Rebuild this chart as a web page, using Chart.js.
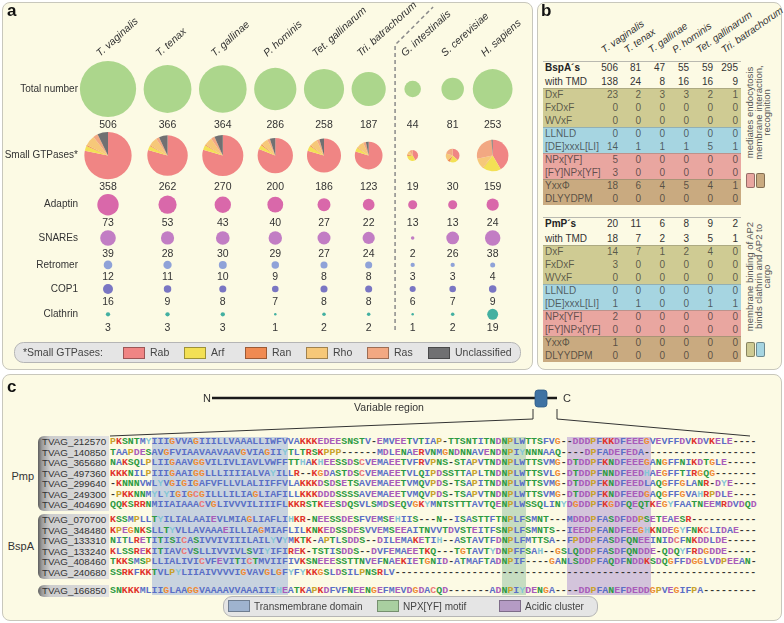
<!DOCTYPE html>
<html>
<head>
<meta charset="utf-8">
<script src="https://cdn.jsdelivr.net/npm/chart.js@4.4.1/dist/chart.umd.min.js"></script>
<style>
  body { margin:0; width:784px; height:623px; position:relative; overflow:hidden; background:#fff;
         font-family:"Liberation Sans", Arial, sans-serif; color:#333; }
  .panel { position:absolute; box-sizing:border-box; background:#fcfae4; border:1px solid #c8c7bc; border-radius:8px; }
  .abs { position:absolute; white-space:nowrap; }
  .tag { position:absolute; font-weight:bold; font-size:17px; line-height:20px; color:#111; }
  .seq { font-family:"Liberation Mono", monospace; font-weight:bold; font-size:9.9px; line-height:10px; }
</style>
</head>
<body>
<div class="panel" style="left:2px;top:2px;width:531px;height:368px"></div>
<div class="panel" style="left:537px;top:2px;width:245px;height:368px"></div>
<div class="panel" style="left:2px;top:374px;width:780px;height:247px"></div>
<canvas id="chartA" width="536" height="372" style="position:absolute;left:0;top:0"></canvas>
<div id="panelB"></div>
<div id="panelC"></div>
<div class="tag" style="left:7px;top:1px">a</div>
<div class="tag" style="left:541px;top:1px">b</div>
<div class="tag" style="left:7px;top:377px">c</div>
<script>
// ---------- panel a data ----------
var species = ['T. vaginalis', 'T. tenax', 'T. gallinae', 'P. hominis', 'Tet. gallinarum',
               'Tri. batrachorum', 'G. intestinalis', 'S. cerevisiae', 'H. sapiens'];
var rowNames = ['Total number', 'Small GTPases*', 'Adaptin', 'SNAREs', 'Retromer', 'COP1', 'Clathrin'];
var totalNumber  = [506, 366, 364, 286, 258, 187, 44, 81, 253];
var smallGTPases = [358, 262, 270, 200, 186, 123, 19, 30, 159];
var adaptin      = [73, 53, 43, 40, 27, 22, 13, 13, 24];
var snares       = [39, 28, 30, 29, 27, 24, 2, 26, 38];
var retromer     = [12, 11, 10, 9, 8, 8, 3, 3, 4];
var cop1         = [16, 9, 8, 7, 8, 8, 6, 7, 9];
var clathrin     = [3, 3, 3, 1, 2, 2, 1, 2, 19];

// small GTPase families (estimated from the pies)
var gtpaseTypes  = ['Rab', 'Arf', 'Ran', 'Rho', 'Ras', 'Unclassified'];
var rab          = [280, 208, 215, 162, 148, 98, 8, 11, 66];
var arf          = [12, 9, 10, 8, 9, 6, 6, 6, 30];
var ran          = [3, 2, 2, 2, 2, 1, 1, 2, 1];
var rho          = [25, 18, 17, 13, 14, 10, 2, 5, 17];
var ras          = [12, 7, 8, 5, 5, 4, 2, 6, 43];
var unclassified = [26, 18, 18, 10, 8, 4, 0, 0, 2];

// ---------- panel b data ----------
var tableSpecies = species.slice(0, 6);
var motifs = ['DxF', 'FxDxF', 'WVxF', 'LLNLD', '[DE]xxxL[LI]', 'NPx[YF]', '[FY]NPx[YF]', 'YxxΦ', 'DLYYDPM'];
var bspaCount   = [506, 81, 47, 55, 59, 295];
var bspaWithTMD = [138, 24, 8, 16, 16, 9];
var bspaMotifHits = [
  [23, 2, 3, 3, 2, 1], [0, 0, 0, 0, 0, 0], [0, 0, 0, 0, 0, 0],
  [0, 0, 0, 0, 0, 0], [14, 1, 1, 1, 5, 1],
  [5, 0, 0, 0, 0, 0], [3, 0, 0, 0, 0, 0],
  [18, 6, 4, 5, 4, 1], [0, 0, 0, 0, 0, 0]];
var pmpCount   = [20, 11, 6, 8, 9, 2];
var pmpWithTMD = [18, 7, 2, 3, 5, 1];
var pmpMotifHits = [
  [14, 7, 1, 2, 4, 0], [3, 0, 0, 0, 0, 0], [0, 0, 0, 0, 0, 0],
  [0, 0, 0, 0, 0, 0], [1, 1, 0, 0, 1, 1],
  [2, 0, 0, 0, 0, 0], [0, 0, 0, 0, 0, 0],
  [1, 0, 0, 0, 0, 0], [0, 0, 0, 0, 0, 0]];

// ---------- panel c data ----------
var pmpIds = ['TVAG_212570', 'TVAG_140850', 'TVAG_365680', 'TVAG_497360', 'TVAG_299640', 'TVAG_249300', 'TVAG_404690'];
var pmpSeqs = [
  'PKSNTMYIIIGVVAGIIILLVAAALLIWFVVAKKKEDEESNSTV-EMVEETVTIAP-TTSNTITNDNPLWTTSFVG--DDDPFKKDFEEEGVEVFFDVKDVKELE----',
  'TAAPDESAVGFVIAAVAAVAAVGVIAGIIYTLTRSKPPP------MDLENAERVNMGNDNNAVENDNPIYNNNAAQ----DPFADEFEDA-------------------',
  'NAKSQLPLIIGAAVGGVILIVLIAVLVWFFTTHAKHEESSDSCVEMAEETVFRVPNS-STAPVTNDNPLWTTSVMG-DTDDPFKNDFEEEGANGFFNIKDTGLE-----',
  'KKKNILPIIIGAAIGGLLLIIIIALVAYILLR--KGDASTDSCVEMAEETVLQIPDSSTTAPLTNDNPLWTTSVLG-DTDDPFNNDFEEDHAEGFFTIRGQG-------',
  '-KNNNVWLYVGIGIGAFVFLLVLALIIFFVLAKKKDSDSETSAVEMAEETVMQVPDS-TSAPITNDNPLWTTSVMG-DTDDPFKNDFEEDLAQGFFGLANR-DYE----',
  '-PKKNNMYLYIGIGCGILLLILIAGLIAFILLKKKDDDSSSSAVEMAEETVMQVPDS-TSAPVTNDNPLWTTSVMG-DTDDPFKNDFEEDGAQGFFGVAHRPDLE----',
  'QQKSRRNMIIAIAAACVGLIVVVILIIIFLKKRSTKEESDQSVLSMDSEQVGKYMNTSTTTAVTQENPLWSSQLINYDGDDPFKGDFQEQTKEGYFAATNEEMRDVDQD'];
var bspaIds = ['TVAG_070700', 'TVAG_348480', 'TVAG_133310', 'TVAG_133240', 'TVAG_408460', 'TVAG_240680'];
var bspaSeqs = [
  'KSSMPLLTYILIALAAIEVLMIAGLIAFLIHKR-NEESSDESFVEMSEHIIS---N--ISASTTFTNPLFSMNT---MDDDPFASDFDDPSETEAESR-----------',
  'KPEGNKSLLTYVLLAVAAAEILLIAGMIAFLILKNKEDSSDESVVEMSEEAITNVVTDVSTEITFSNPLFSMNTS--IEEDPFANDFEEGHKNDEGYFNKCLIDAE---',
  'NITLRETITISICASIVVIVIIILAILYVYMKTK-APTLSDDS--DILEMAKETIH--ASTAVTFDNPLFMTTSA--FPDDPFASDFQNEEINIDCFNKDDLDE-----',
  'KLSSREKITIAVCVSLLIVVIVLSVIYIFIREK-TSTISDDS--DVFEMAEETKQ---TGTAVTYDNPFFSAH--GSLQDDPFASDFQNDDE-QDQYFRDGDDE-----',
  'TKKSMSPLLIALIVICVFEVITICTMVIIFIVKSNEEESSTTNVEFNAEKIETGNID-ATMAFTADNPIF----GANLSDDPFAQDFNDDKSDQGFFDGGLVDPEEAN-',
  'SSRKFKKTVLPYLIIAIVVVVIGVAVGLGFYFYKKGSLDSILPNSRLV-------------------------------------------------------------'];
var otherIds = ['TVAG_166850'];
var otherSeqs = [
  'SNKKKMLIIGLAAGGVAAAAVVAAAIIIHEATKAPKDFVFNEENGEFMEVDGDACQD-------ADNPIYDENGA----DDPFANEFDEDDGPVEGIFPA---------'];
var tmCols = [7, 29], npxCols = [66, 69], acidicCols = [77, 90];

// ---------- styles / layout ----------
var rowColors = ['#acd68c', null, '#d968aa', '#c27dc4', '#8fa2d8', '#7a76c3', '#43b0a1'];
var gtpaseColors = ['#f08584', '#f3e055', '#f08a52', '#f6c879', '#f2a882', '#707072'];
var bubbleScale = 1.25;           // px radius per sqrt(count), area ~ count
var colGap = 7.5, minColStep = 40, groupGap = 4, rowGap = 14.8;
var firstColPx = 108, firstRowPx = 89;

var rows = [totalNumber, smallGTPases, adaptin, snares, retromer, cop1, clathrin];
var gtpaseCounts = [rab, arf, ran, rho, ras, unclassified];
function rad(v) { return bubbleScale * Math.sqrt(v); }

// column / row centres packed from the bubble sizes
var colMax = species.map(function (s, i) { return Math.max.apply(null, rows.map(function (r) { return rad(r[i]); })); });
var colX = [0];
for (var i = 1; i < species.length; i++) {
  colX.push(colX[i - 1] + Math.max(colMax[i - 1] + colMax[i] + colGap, minColStep) + (i === 6 ? groupGap : 0));
}
var rowMax = rows.map(function (r) { return Math.max.apply(null, r.map(rad)); });
var rowY = [0];
for (var j = 1; j < rows.length; j++) rowY.push(rowY[j - 1] + rowMax[j - 1] + rowMax[j] + rowGap);

var canvasA = document.getElementById('chartA');

var panelAExtras = {
  id: 'panelAExtras',
  afterDatasetsDraw: function (chart) {
    var ctx = chart.ctx, xs = chart.scales.x, ys = chart.scales.y;
    ctx.save();

    // pies for small GTPases
    chart.getDatasetMeta(1).data.forEach(function (el, i) {
      var r = el.options.radius, a = -Math.PI / 2;
      gtpaseCounts.forEach(function (arr, k) {
        var sweep = arr[i] / smallGTPases[i] * Math.PI * 2;
        if (sweep <= 0) return;
        ctx.beginPath();
        ctx.moveTo(el.x, el.y);
        ctx.arc(el.x, el.y, r, a, a + sweep);
        ctx.closePath();
        ctx.fillStyle = gtpaseColors[k];
        ctx.fill();
        a += sweep;
      });
    });

    // row labels
    ctx.fillStyle = '#333';
    ctx.font = '10px "Liberation Sans"';
    ctx.textAlign = 'right';
    ctx.textBaseline = 'middle';
    rowNames.forEach(function (n, j) { ctx.fillText(n, 78, ys.getPixelForValue(rowY[j])); });

    // counts under each row
    ctx.font = '10.5px "Liberation Sans"';
    ctx.textAlign = 'center';
    rows.forEach(function (vals, j) {
      var y = ys.getPixelForValue(rowY[j]) + rowMax[j] + 8;
      vals.forEach(function (v, i) { ctx.fillText(String(v), xs.getPixelForValue(colX[i]), y); });
    });

    // species names
    ctx.font = 'italic 10.5px "Liberation Sans"';
    ctx.textAlign = 'left';
    ctx.textBaseline = 'alphabetic';
    species.forEach(function (s, i) {
      ctx.save();
      ctx.translate(xs.getPixelForValue(colX[i]) - 8, 57);
      ctx.rotate(-42 * Math.PI / 180);
      ctx.fillText(s, 0, 0);
      ctx.restore();
    });

    // dashed separator between trichomonads and the others
    var sx = (xs.getPixelForValue(colX[5]) + colMax[5] + xs.getPixelForValue(colX[6]) - colMax[6]) / 2;
    ctx.strokeStyle = '#8a8a8a';
    ctx.lineWidth = 1.5;
    ctx.setLineDash([4, 3]);
    ctx.beginPath();
    ctx.moveTo(sx, 330);
    ctx.lineTo(sx, 45);
    ctx.lineTo(sx + 38, 7);
    ctx.stroke();
    ctx.setLineDash([]);

    // GTPase legend
    ctx.beginPath();
    ctx.roundRect(14.5, 342.5, 506, 20, 9);
    ctx.fillStyle = '#e5e5e5';
    ctx.fill();
    ctx.strokeStyle = '#b5b5b5';
    ctx.lineWidth = 1;
    ctx.stroke();
    ctx.fillStyle = '#444';
    ctx.font = '10.5px "Liberation Sans"';
    ctx.textBaseline = 'middle';
    ctx.fillText('*Small GTPases:', 23, 353);
    gtpaseTypes.forEach(function (t, k) {
      var x = 123 + 61 * k;
      ctx.fillStyle = gtpaseColors[k];
      ctx.fillRect(x, 347, 22, 12);
      ctx.strokeStyle = 'rgba(0,0,0,0.35)';
      ctx.strokeRect(x + 0.5, 347.5, 21, 11);
      ctx.fillStyle = '#444';
      ctx.fillText(t, x + 27, 353);
    });
    ctx.restore();
  }
};

new Chart(canvasA.getContext('2d'), {
  type: 'bubble',
  data: {
    datasets: rows.map(function (vals, j) {
      return {
        label: rowNames[j],
        data: vals.map(function (v, i) { return { x: colX[i], y: rowY[j], r: rad(v) }; }),
        backgroundColor: rowColors[j] || 'rgba(0,0,0,0)',
        borderWidth: 0
      };
    })
  },
  options: {
    responsive: false,
    animation: false,
    devicePixelRatio: 1,
    events: [],
    layout: { padding: 0, autoPadding: false },
    plugins: { legend: { display: false }, tooltip: { enabled: false } },
    scales: {
      x: { type: 'linear', display: false, min: -firstColPx, max: canvasA.width - firstColPx },
      y: { type: 'linear', display: false, reverse: true, min: -firstRowPx, max: canvasA.height - firstRowPx }
    }
  },
  plugins: [panelAExtras]
});

// ---------- panel b (motif table) ----------
function put(parent, text, css) {
  var d = document.createElement('div');
  d.className = 'abs';
  d.textContent = text;
  d.style.cssText += css;
  parent.appendChild(d);
  return d;
}
var B = document.getElementById('panelB');
var colRight = [618, 641, 665, 689, 713, 738];
var bandColors = ['#cfcb93', '#cfcb93', '#cfcb93', '#a6d5e1', '#a6d5e1', '#e9a6a0', '#e9a6a0', '#c9aa80', '#c9aa80'];
var groupStart = [true, false, false, true, false, true, false, true, false];

tableSpecies.forEach(function (s, i) {
  put(B, s, 'left:' + (colRight[i] - 12) + 'px;top:44px;height:12px;line-height:12px;font-style:italic;font-size:10px;' +
    'transform:rotate(-35deg);transform-origin:0 100%;');
});

function tableRow(y, label, vals, labelCss, css) {
  put(B, label, 'left:545px;top:' + (y - 6.5) + 'px;line-height:13px;font-size:10px;' + css + labelCss);
  vals.forEach(function (v, i) {
    put(B, String(v), 'left:' + (colRight[i] - 30) + 'px;width:30px;text-align:right;top:' + (y - 6.5) +
      'px;line-height:13px;font-size:10px;' + css);
  });
}
function motifTable(y0, gap, head, headVals, tmdVals, hits) {
  put(B, '', 'left:543px;top:' + (y0 - 7) + 'px;width:198px;height:1px;background:#b9b9b0;');
  tableRow(y0, head, headVals, 'font-weight:bold;color:#222;', 'color:#333;');
  tableRow(y0 + gap, 'with TMD', tmdVals, '', 'color:#333;');
  motifs.forEach(function (m, k) {
    var y = y0 + gap + 13 * (k + 1);
    put(B, '', 'left:543px;top:' + (y - 6.5) + 'px;width:198px;height:13px;box-sizing:border-box;background:' +
      bandColors[k] + ';' + (groupStart[k] ? 'border-top:1px solid rgba(110,110,100,0.35);' : ''));
    tableRow(y, m, hits[k], '', 'color:rgba(45,45,45,0.72);');
  });
}
motifTable(67.5, 13.5, 'BspA´s', bspaCount, bspaWithTMD, bspaMotifHits);
motifTable(223.5, 15, 'PmP´s', pmpCount, pmpWithTMD, pmpMotifHits);

function sideNote(lines, cx, cy, w) {
  var d = put(B, '', 'left:' + (cx - w / 2) + 'px;top:' + (cy - 13.5) + 'px;width:' + w + 'px;height:27px;' +
    'text-align:center;font-size:9.5px;line-height:8.6px;color:#555;transform:rotate(-90deg);white-space:normal;');
  d.innerHTML = lines.join('<br>');
}
sideNote(['mediates endocytosis', 'membrane interaction,', 'recognition'], 759, 112, 100);
sideNote(['membrane binding of AP2', 'binds clathrin and AP2 to', 'cargo'], 759, 276, 126);
function swatch(x, y, col) {
  put(B, '', 'left:' + x + 'px;top:' + y + 'px;width:7px;height:13px;border-radius:2px;background:' + col +
    ';border:1px solid rgba(0,0,0,0.35);');
}
swatch(746, 173, '#e9a6a0'); swatch(756, 173, '#c9aa80');
swatch(746, 342, '#cfcb93'); swatch(756, 342, '#a6d5e1');

// ---------- panel c (alignment) ----------
var C = document.getElementById('panelC');
var seqLeft = 110, charW = 5.94, shadeTop = 437, shadeBottom = 595;
var hydrophobic = '#5a6fc6', positive = '#e0332c', negative = '#a95cb9', polar = '#2e9a42';
var resColor = { A: hydrophobic, I: hydrophobic, L: hydrophobic, M: hydrophobic, F: hydrophobic, W: hydrophobic,
  V: hydrophobic, C: '#ec7878', K: positive, R: positive, D: negative, E: negative, N: polar, Q: polar, S: polar,
  T: polar, G: '#ef8a35', P: '#c9a22a', H: '#86c7d6', Y: '#86c7d6', '-': '#333' };

[[tmCols, '#c8d3df'], [npxCols, '#c6ddc1'], [acidicCols, '#d3c4db']].forEach(function (s) {
  put(C, '', 'left:' + (seqLeft + s[0][0] * charW) + 'px;width:' + ((s[0][1] - s[0][0] + 1) * charW) + 'px;top:' +
    shadeTop + 'px;height:' + (shadeBottom - shadeTop) + 'px;background:' + s[1] + ';');
});

function seqGroup(ids, seqs, y0, name, nameY) {
  var top = y0 - 6, h = (ids.length - 1) * 10.5 + 12;
  put(C, '', 'left:38px;top:' + top + 'px;width:71px;height:' + h + 'px;border-radius:6px 0 0 6px;' +
    'background:linear-gradient(to right,#5e5e5e 0px,#9c9c9c 4px,#cdcdcd 12px,#e2e2e2 100%);');
  if (name) put(C, name, 'left:0;width:34px;text-align:right;top:' + (nameY - 7) + 'px;line-height:14px;font-size:11px;color:#333;');
  ids.forEach(function (id, k) {
    var y = y0 + k * 10.5;
    put(C, id, 'left:42px;top:' + (y - 6) + 'px;line-height:12px;font-size:9.8px;color:#333;');
    var seq = seqs[k].padEnd(109, '-');
    var html = '', cur = null, buf = '';
    for (var n = 0; n < seq.length; n++) {
      var col = resColor[seq[n]] || '#333';
      if (col !== cur) { if (buf) html += '<span style="color:' + cur + '">' + buf + '</span>'; cur = col; buf = ''; }
      buf += seq[n];
    }
    html += '<span style="color:' + cur + '">' + buf + '</span>';
    var d = put(C, '', 'left:' + seqLeft + 'px;top:' + (y - 5) + 'px;');
    d.className = 'abs seq';
    d.innerHTML = html;
  });
}
seqGroup(pmpIds, pmpSeqs, 442, 'Pmp', 476);
seqGroup(bspaIds, bspaSeqs, 520, 'BspA', 546);
seqGroup(otherIds, otherSeqs, 591, null, 0);

// domain sketch and zoom lines
var svgNS = 'http://www.w3.org/2000/svg';
var svg = document.createElementNS(svgNS, 'svg');
svg.setAttribute('width', 784); svg.setAttribute('height', 623);
svg.style.cssText = 'position:absolute;left:0;top:0;';
svg.innerHTML =
  '<line x1="212" y1="398" x2="557" y2="398" stroke="#1a1a1a" stroke-width="2.5"/>' +
  '<rect x="535" y="390" width="12" height="17" rx="3" fill="#3f72a3" stroke="#2d5a85" stroke-width="0.8"/>' +
  '<polyline points="110,436 533,419 533,409" fill="none" stroke="#333" stroke-width="1"/>' +
  '<polyline points="557,409 557,419 750,436" fill="none" stroke="#333" stroke-width="1"/>' +
  '<text x="203" y="402" font-size="11" fill="#333" font-family="Liberation Sans">N</text>' +
  '<text x="563" y="402" font-size="11" fill="#333" font-family="Liberation Sans">C</text>' +
  '<text x="389" y="411" font-size="10.5" fill="#333" text-anchor="middle" font-family="Liberation Sans">Variable region</text>';
C.appendChild(svg);

// legend for the shading
put(C, '', 'left:223px;top:596px;width:375px;height:21px;box-sizing:border-box;border-radius:9px;background:#e5e5e5;border:1px solid #b5b5b5;');
[['Transmembrane domain', 228, '#9fb3cf'], ['NPX[YF] motif', 377, '#a9cfa0'], ['Acidic cluster', 499, '#b59bc4']].forEach(function (l) {
  put(C, '', 'left:' + l[1] + 'px;top:600px;width:22px;height:12px;box-sizing:border-box;background:' + l[2] + ';border:1px solid rgba(0,0,0,0.3);');
  put(C, l[0], 'left:' + (l[1] + 26) + 'px;top:600px;line-height:13px;font-size:10px;color:#444;');
});
</script>
</body>
</html>
